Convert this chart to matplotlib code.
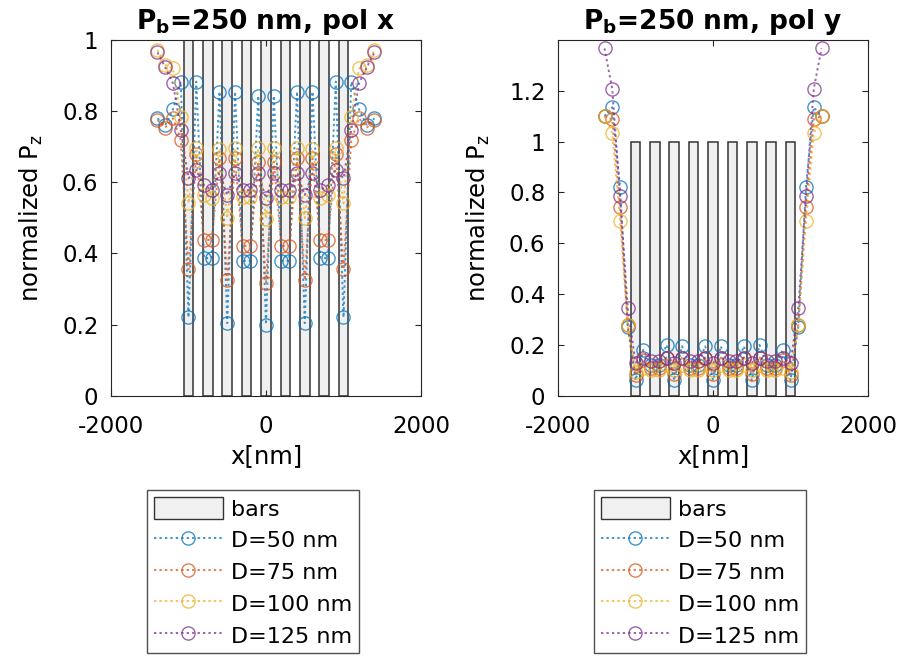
import numpy as np
import matplotlib
matplotlib.use("Agg")
import matplotlib.pyplot as plt
from matplotlib.patches import Patch
from matplotlib.lines import Line2D

# sample positions along the array (nm)
x_nm = [-1400, -1300, -1200, -1100, -1000, -900, -800, -700, -600, -500, -400, -300, -200, -100, 0,
        100, 200, 300, 400, 500, 600, 700, 800, 900, 1000, 1100, 1200, 1300, 1400]

# bar centres for P_b = 250 nm, bar width and height
bar_centers = [-1000, -750, -500, -250, 0, 250, 500, 750, 1000]
bar_width = 125
bar_height = [1, 1, 1, 1, 1, 1, 1, 1, 1]

diameters = [50, 75, 100, 125]

# normalized Pz, polarisation x
polx_d50 = [0.78, 0.76, 0.805, 0.883, 0.22, 0.883, 0.386, 0.388, 0.855, 0.204, 0.855, 0.379, 0.379, 0.843, 0.20,
            0.843, 0.379, 0.379, 0.855, 0.204, 0.855, 0.388, 0.386, 0.883, 0.22, 0.883, 0.805, 0.76, 0.78]
polx_d75 = [0.775, 0.754, 0.78, 0.719, 0.355, 0.68, 0.438, 0.438, 0.667, 0.325, 0.667, 0.421, 0.421, 0.658, 0.318,
            0.658, 0.421, 0.421, 0.667, 0.325, 0.667, 0.438, 0.438, 0.68, 0.355, 0.719, 0.78, 0.754, 0.775]
polx_d100 = [0.972, 0.93, 0.92, 0.784, 0.541, 0.695, 0.564, 0.557, 0.693, 0.499, 0.695, 0.56, 0.56, 0.695, 0.497,
             0.695, 0.56, 0.56, 0.695, 0.499, 0.693, 0.557, 0.564, 0.695, 0.541, 0.784, 0.92, 0.93, 0.972]
polx_d125 = [0.965, 0.923, 0.878, 0.747, 0.611, 0.635, 0.592, 0.578, 0.625, 0.564, 0.625, 0.578, 0.578, 0.625, 0.555,
             0.625, 0.578, 0.578, 0.625, 0.564, 0.625, 0.578, 0.592, 0.635, 0.611, 0.747, 0.878, 0.923, 0.965]

# normalized Pz, polarisation y
poly_d50 = [1.10, 1.135, 0.823, 0.27, 0.06, 0.18, 0.12, 0.12, 0.20, 0.06, 0.195, 0.12, 0.12, 0.195, 0.06,
            0.195, 0.12, 0.12, 0.195, 0.06, 0.20, 0.12, 0.12, 0.18, 0.06, 0.27, 0.823, 1.135, 1.10]
poly_d75 = [1.10, 1.088, 0.744, 0.278, 0.08, 0.14, 0.11, 0.11, 0.15, 0.085, 0.15, 0.11, 0.11, 0.15, 0.085,
            0.15, 0.11, 0.11, 0.15, 0.085, 0.15, 0.11, 0.11, 0.14, 0.08, 0.278, 0.744, 1.088, 1.10]
poly_d100 = [1.10, 1.033, 0.689, 0.278, 0.095, 0.11, 0.10, 0.10, 0.12, 0.10, 0.12, 0.10, 0.10, 0.12, 0.10,
             0.12, 0.10, 0.10, 0.12, 0.10, 0.12, 0.10, 0.10, 0.11, 0.095, 0.278, 0.689, 1.033, 1.10]
poly_d125 = [1.367, 1.207, 0.787, 0.344, 0.13, 0.15, 0.135, 0.135, 0.15, 0.13, 0.15, 0.135, 0.135, 0.15, 0.13,
             0.15, 0.135, 0.135, 0.15, 0.13, 0.15, 0.135, 0.135, 0.15, 0.13, 0.344, 0.787, 1.207, 1.367]

colors = ["#0072BD", "#D95319", "#EDB120", "#7E2F8E"]

plt.rcParams["font.family"] = ["DejaVu Sans"]
plt.rcParams["axes.unicode_minus"] = False

fig = plt.figure(figsize=(9.03, 6.62), dpi=100)
ax_x = fig.add_axes([111 / 903, 1 - 395.7 / 662, 310 / 903, 355.7 / 662])
ax_y = fig.add_axes([558 / 903, 1 - 395.7 / 662, 310 / 903, 355.7 / 662])

panels = [
    (ax_x, [polx_d50, polx_d75, polx_d100, polx_d125], "x", (0, 1), [0, 0.2, 0.4, 0.6, 0.8, 1]),
    (ax_y, [poly_d50, poly_d75, poly_d100, poly_d125], "y", (0, 1.4), [0, 0.2, 0.4, 0.6, 0.8, 1, 1.2]),
]

line_kw = dict(linestyle=(0, (1.2, 1.6)), linewidth=1.4, marker="o", markersize=9.5,
               markerfacecolor="none", markeredgewidth=1.0, alpha=0.75)

for ax, series, pol, ylim, yticks in panels:
    ax.bar(bar_centers, bar_height, width=bar_width, color="#F0F0F0",
           edgecolor="#333333", linewidth=1.1, zorder=1)
    for vals, c in zip(series, colors):
        ax.plot(x_nm, vals, color=c, markeredgecolor=c, zorder=2, **line_kw)
    ax.set_xlim(-2000, 2000)
    ax.set_ylim(*ylim)
    ax.set_xticks([-2000, 0, 2000])
    ax.set_yticks(yticks)
    ax.set_yticklabels([f"{t:g}" for t in yticks])
    ax.tick_params(axis="both", direction="in", top=True, right=True, length=4, width=0.8,
                   color="#262626", labelsize=16.5)
    ax.tick_params(axis="x", pad=14)
    ax.tick_params(axis="y", pad=9)
    for s in ax.spines.values():
        s.set_color("#262626")
        s.set_linewidth(0.8)
    ax.set_xlabel("x[nm]", fontsize=17.5, labelpad=4)
    ax.set_ylabel("normalized P$_\\mathregular{z}$", fontsize=17.5, labelpad=12)
    ax.set_title("P$_\\mathregular{b}$=250 nm, pol " + pol, fontsize=19, fontweight="bold", pad=8)

    handles = [Patch(facecolor="#F0F0F0", edgecolor="#333333", linewidth=1.0, label="bars")]
    for d, c in zip(diameters, colors):
        handles.append(Line2D([], [], color=c, markeredgecolor=c, label=f"D={d} nm", **line_kw))
    pos = ax.get_position()
    fig.legend(handles=handles, loc="upper center",
               bbox_to_anchor=(pos.x0 + pos.width / 2 - 13 / 903, 1 - 490 / 662),
               fontsize=16, frameon=True, fancybox=False, edgecolor="#262626",
               handlelength=3.1, handleheight=1.2, labelspacing=0.4, borderpad=0.3,
               handletextpad=0.35, borderaxespad=0)

fig.savefig("out.png", dpi=100)
